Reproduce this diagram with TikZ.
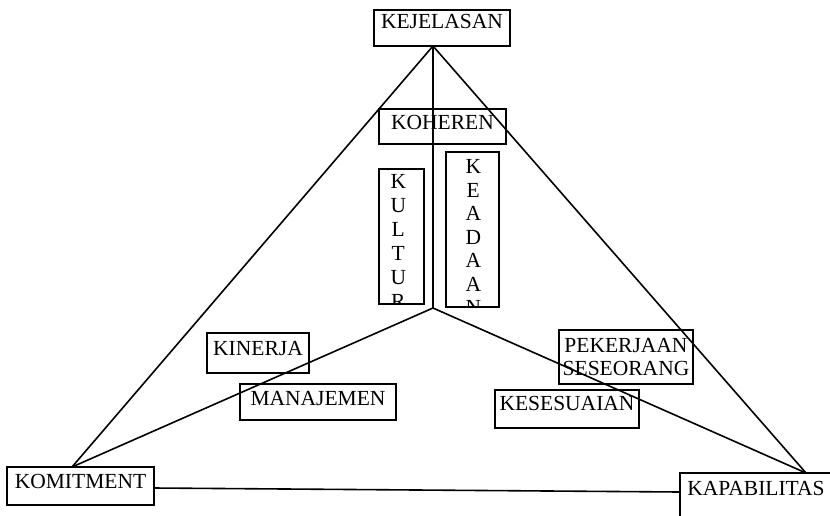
\documentclass[tikz,border=0pt]{standalone}
\usepackage{fontspec}
\setmainfont{Liberation Serif}
\begin{document}
\begin{tikzpicture}[x=1pt,y=-1pt,
  box/.style={draw, line width=1.9pt, inner sep=0pt, font=\fontsize{21.5}{23.5}\selectfont, align=center},
  conn/.style={line width=1.6pt},
  lettr/.style={inner sep=0pt, anchor=base, font=\fontsize{21.5}{24}\selectfont}]
\clip (0,0) rectangle (830,515);
% boxes
\node[box, minimum width=136pt, minimum height=36pt, text height=18.6pt, text depth=17.4pt] (kej) at (442,28) {KEJELASAN};
\node[box, minimum width=127pt, minimum height=35pt, text height=20.6pt, text depth=14.4pt] (koh) at (442.5,126.5) {KOHEREN};
\node[box, minimum width=102pt, minimum height=40pt, text height=22.1pt, text depth=17.9pt] (kin) at (258,353) {KINERJA};
\node[box, minimum width=156pt, minimum height=36pt, text height=21.1pt, text depth=14.9pt] (man) at (318,402) {MANAJEMEN};
\node[box, minimum width=134pt, minimum height=54pt] (pek) at (626,357) {PEKERJAAN\\SESEORANG};
\node[box, minimum width=144pt, minimum height=38pt, text height=20.1pt, text depth=17.9pt] (kes) at (567,409) {KESESUAIAN};
\node[box, minimum width=147pt, minimum height=38pt, text height=21.8pt, text depth=16.2pt] (kom) at (80.5,486) {KOMITMENT};
\node[box, minimum width=152pt, minimum height=47pt, text height=22.4pt, text depth=24.6pt] (kap) at (756,496.5) {KAPABILITAS};
\node[box, minimum width=45pt, minimum height=135pt] (kul) at (401.5,236.5) {};
\node[box, minimum width=53pt, minimum height=155pt] (kea) at (472.5,229.5) {};
% vertical letters, clipped by their boxes
\begin{scope}
  \clip (kul.north west) rectangle (kul.south east);
  \foreach \l [count=\i] in {K,U,L,T,U,R}
    \node[lettr] (kul\i) at (398.3,{188.8+24*(\i-1)}) {\l};
\end{scope}
\begin{scope}
  \clip (kea.north west) rectangle (kea.south east);
  \foreach \l [count=\i] in {K,E,A,D,A,A,N}
    \node[lettr] (kea\i) at (473.3,{173.8+23.5*(\i-1)}) {\l};
\end{scope}
% connector points
\coordinate (apex) at (433,46);
\coordinate (mid) at (433,308);
\coordinate (komtop) at (72,467);
\coordinate (kaptop) at (806,473);
\coordinate (komR) at (154,488);
\coordinate (kapL) at (680,492);
% connectors
\draw[conn] (apex) -- (komtop);
\draw[conn] (apex) -- (kaptop);
\draw[conn] (apex) -- (mid);
\draw[conn] (mid) -- (komtop);
\draw[conn] (mid) -- (kaptop);
\draw[conn] (komR) -- (kapL);
\end{tikzpicture}
\end{document}
